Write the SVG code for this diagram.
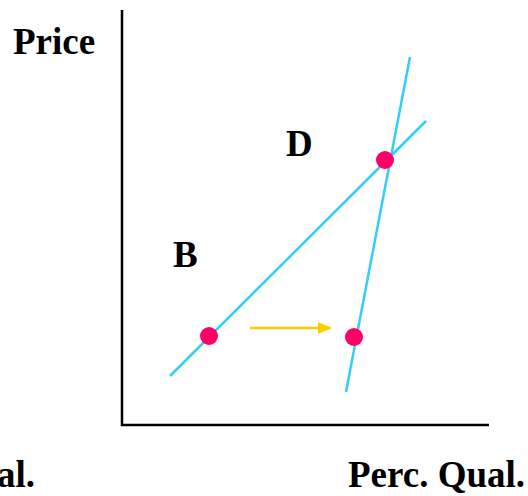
<svg xmlns="http://www.w3.org/2000/svg" width="528" height="496" viewBox="0 0 528 496">
<style>
.t{font-family:"Liberation Serif","Times New Roman",serif;font-weight:bold;font-size:37px;fill:#000}
.ax{stroke:#000;stroke-width:2.5;fill:none}
.ln{stroke:#33CCFF;stroke-width:2.5;fill:none}
.dot{fill:#FF0066}
</style>
<defs>
<marker id="ah" markerWidth="14" markerHeight="12" refX="12" refY="6" orient="auto" markerUnits="userSpaceOnUse">
<path d="M0,0 L14,6 L0,12 Z" fill="#FFCC00"/>
</marker>
</defs>
<g id="axes">
<path class="ax" d="M122,10 V425 H489"/>
</g>
<g id="connectors">
<line class="ln" x1="170" y1="376" x2="426" y2="121"/>
<line class="ln" x1="346" y1="392" x2="410" y2="57"/>
<line x1="250" y1="328" x2="330" y2="328" stroke="#FFCC00" stroke-width="2.5" marker-end="url(#ah)"/>
</g>
<g id="dot1"><circle class="dot" cx="209" cy="336" r="9"/></g>
<g id="dot2"><circle class="dot" cx="354" cy="337" r="9"/></g>
<g id="dot3"><circle class="dot" cx="385" cy="160" r="9"/></g>
<g id="labels">
<text class="t" x="13" y="54">Price</text>
<text class="t" x="286" y="156">D</text>
<text class="t" x="173" y="267">B</text>
<text class="t" x="-3" y="487">al.</text>
<text class="t" x="348" y="487">Perc. Qual.</text>
</g>
</svg>
